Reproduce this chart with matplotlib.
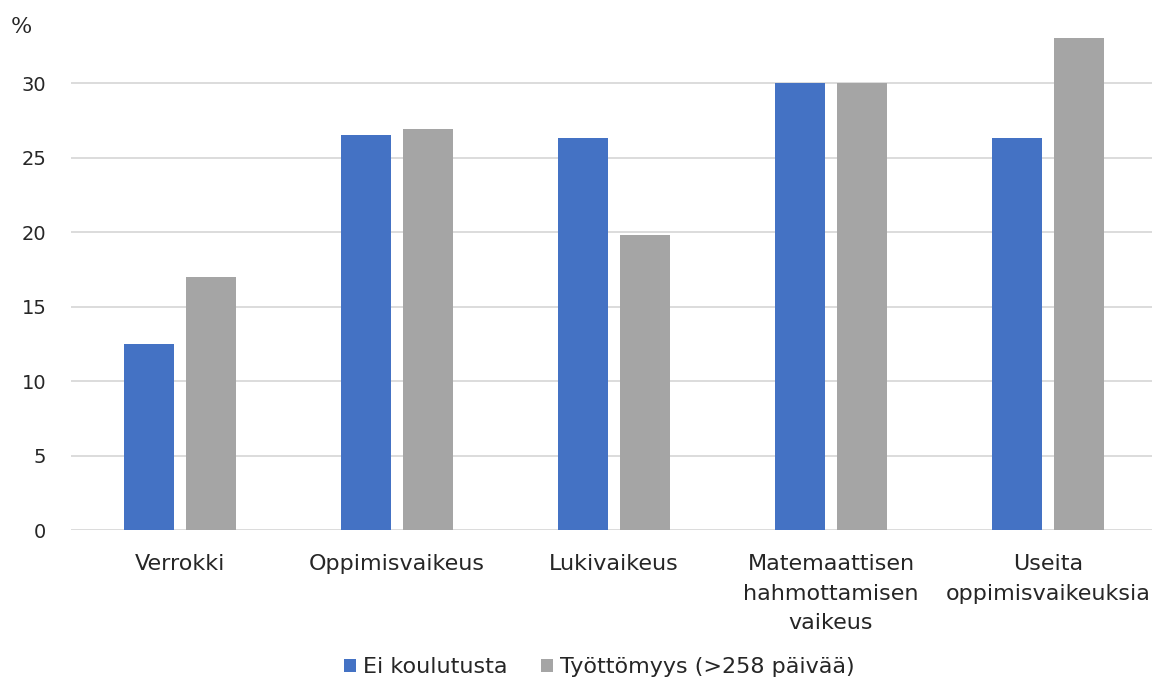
import numpy as np
import matplotlib.pyplot as plt

plt.rcParams['font.family'] = ['DejaVu Sans']

categories = ["Verrokki", "Oppimisvaikeus", "Lukivaikeus",
              "Matemaattisen\nhahmottamisen\nvaikeus", "Useita\noppimisvaikeuksia"]
ei_koulutusta = [12.5, 26.5, 26.3, 30.0, 26.3]
tyottomyys = [17.0, 26.9, 19.8, 30.0, 33.0]
series_names = ["Ei koulutusta", "Työttömyys (>258 päivää)"]

fig = plt.figure(figsize=(11.52, 6.79), dpi=100)
ax = fig.add_axes([0.062, 0.2194, 0.942, 0.768])

x = np.arange(len(categories))
w = 0.23
ax.bar(x - 0.143, ei_koulutusta, w, color="#4472C4", label=series_names[0], zorder=3)
ax.bar(x + 0.143, tyottomyys, w, color="#A5A5A5", label=series_names[1], zorder=3)

ax.set_xlim(-0.5, len(categories) - 0.5)
ax.set_ylim(0, 35)
ax.set_yticks(range(0, 31, 5))
ax.yaxis.grid(True, color="#D9D9D9", linewidth=1.3, zorder=0)
for s in ax.spines.values():
    s.set_visible(False)
ax.tick_params(axis="both", length=0, colors="#262626")
ax.tick_params(axis="y", pad=18, labelsize=14)
ax.tick_params(axis="x", pad=17, labelsize=16)
ax.set_xticks(x)
ax.set_xticklabels(categories, linespacing=1.62)

fig.text(0.009, 0.952, "%", fontsize=16, family="DejaVu Serif", color="#262626")

fig.legend(loc="lower center", bbox_to_anchor=(0.52, -0.027), ncol=2, frameon=False,
           fontsize=16, handlelength=0.55, handleheight=0.55, handletextpad=0.3,
           columnspacing=1.5, labelcolor="#262626")

fig.savefig("out.png", dpi=100)
